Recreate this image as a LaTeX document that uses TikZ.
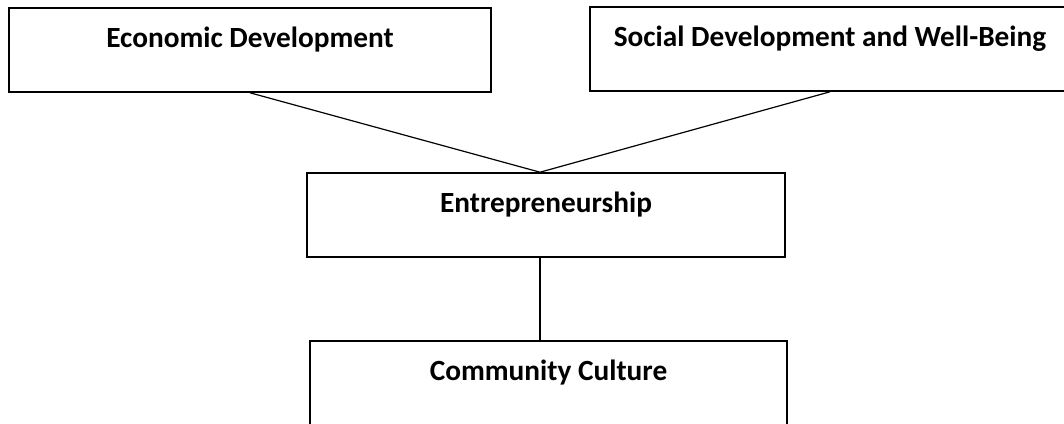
\documentclass[tikz,border=0pt]{standalone}
\usepackage{fontspec}
\setmainfont{Carlito}
\usepackage{tikz}

\begin{document}
\begin{tikzpicture}[x=1pt, y=-1pt]
    \tikzstyle{block} = [rectangle, draw, line width=1.6pt, inner xsep=0pt, inner ysep=0pt,
        text height=39pt, text depth=45pt, font=\fontsize{29.3}{35}\selectfont\bfseries]
    \tikzstyle{link} = [line width=1.2pt]

    % Page size
    \useasboundingbox (0,0) rectangle (1064,423);

    % Top row
    \node[block, minimum width=482pt] (econ) at (250, 50) {Economic Development};
    \node[block, minimum width=480pt] (social) at (830, 49) {Social Development and Well-Being};

    % Middle and bottom
    \node[block, minimum width=478pt] (entre) at (546, 215) {Entrepreneurship};
    \node[block, minimum width=477pt] (culture) at (548.5, 383) {Community Culture};

    % Connectors
    \coordinate (meet) at ([xshift=-6pt]entre.north);
    \coordinate (foot) at ([xshift=-6pt]entre.south);
    \draw[link] (econ.south) -- (meet);
    \draw[link] (social.south) -- (meet);
    \draw[link] (foot) -- (foot |- culture.north);
\end{tikzpicture}
\end{document}
